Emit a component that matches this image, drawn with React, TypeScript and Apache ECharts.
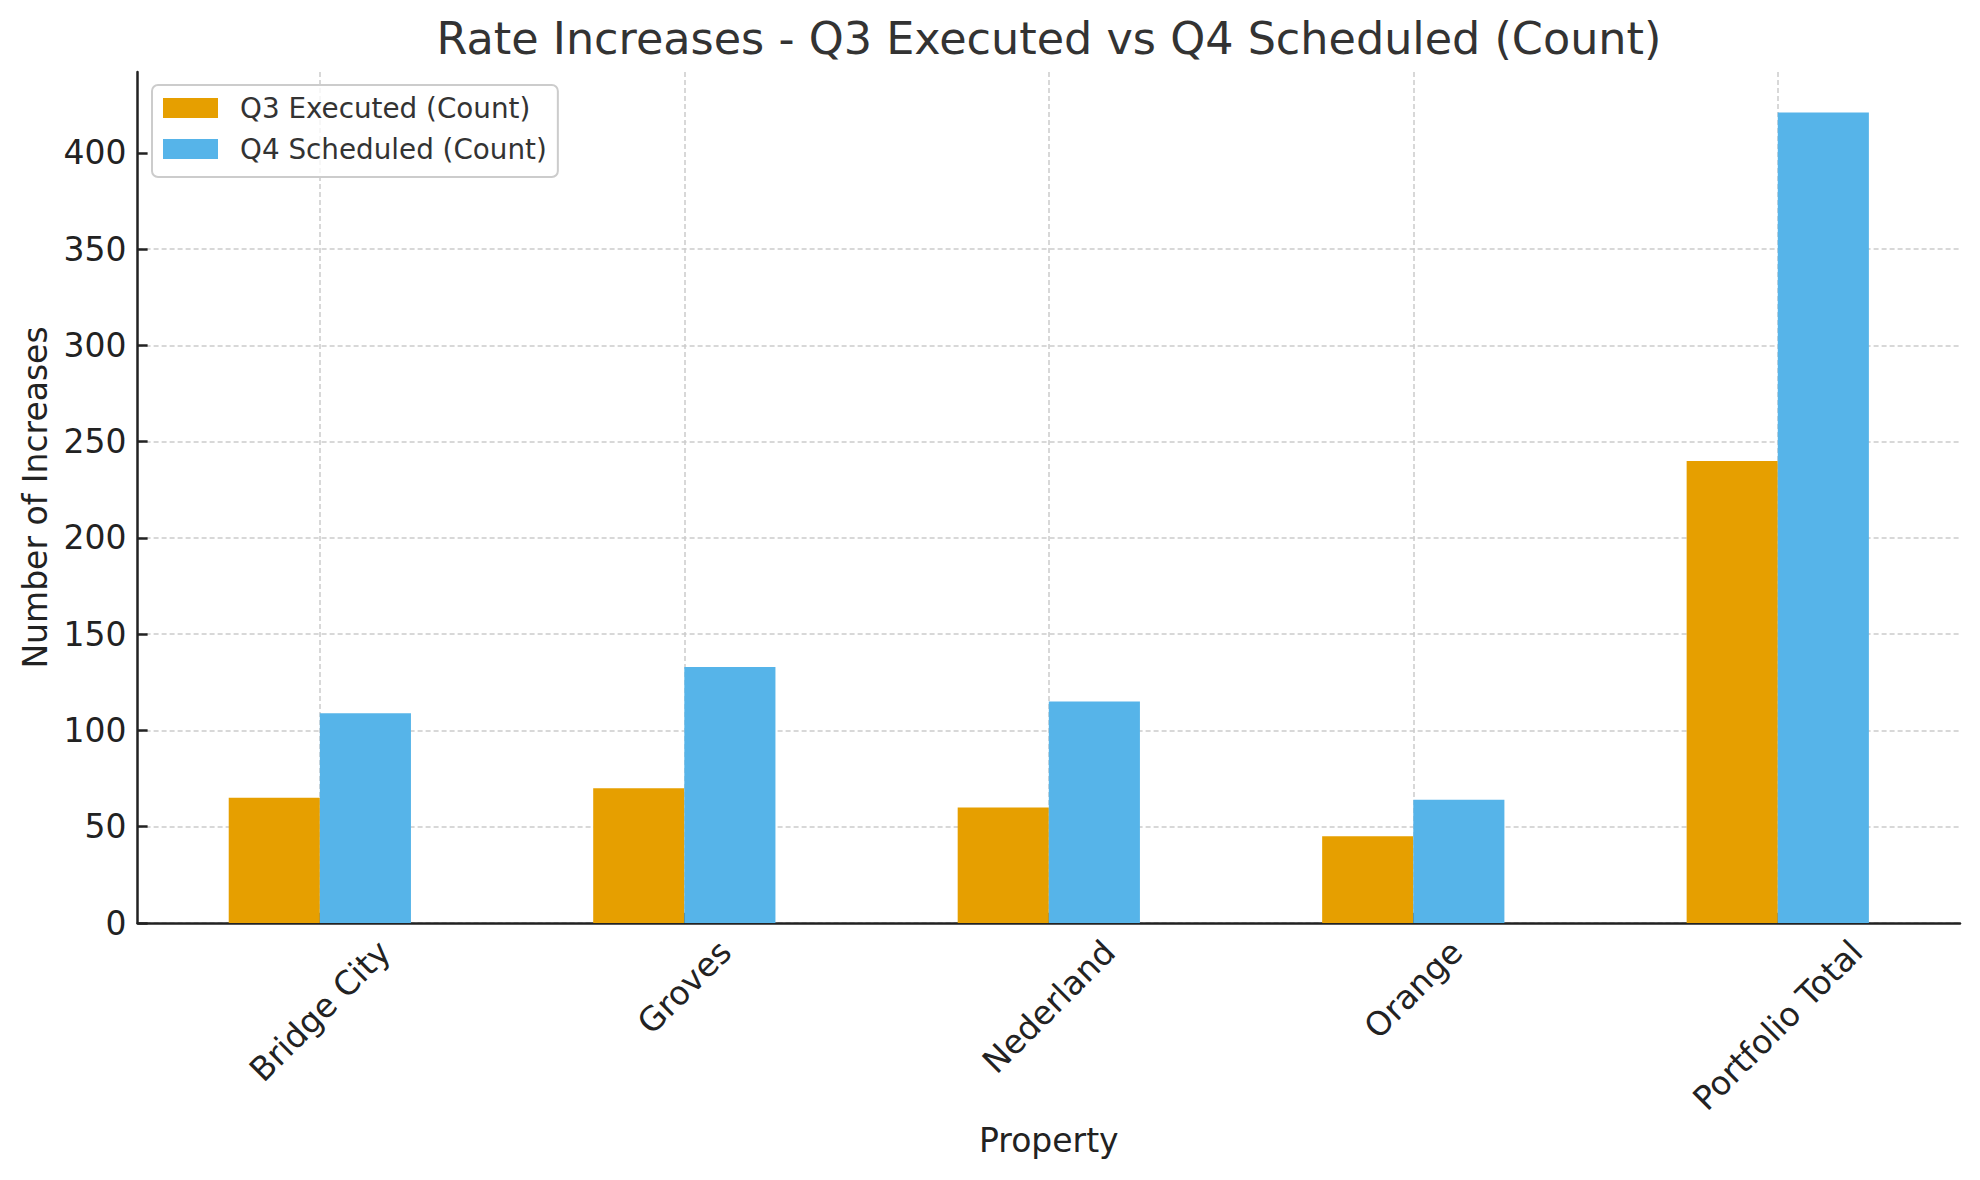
import React, { useEffect, useRef } from "react";
import * as echarts from "echarts";

const categories = ["Bridge City", "Groves", "Nederland", "Orange", "Portfolio Total"];
const q3Executed = [65, 70, 60, 45, 240];
const q4Scheduled = [109, 133, 115, 64, 421];
const yTicks = [0, 50, 100, 150, 200, 250, 300, 350, 400];

const FONT = '"DejaVu Sans", "Liberation Sans", sans-serif';
const TICK_FS = 33;

function measure(text: string, size: number): number {
  const c = document.createElement("canvas");
  const ctx = c.getContext("2d");
  if (!ctx) return text.length * size * 0.6;
  ctx.font = `${size}px "DejaVu Sans"`;
  return ctx.measureText(text).width;
}

export default function App() {
  const ref = useRef<HTMLDivElement>(null);

  useEffect(() => {
    if (!ref.current) return;
    const chart = echarts.init(ref.current, null, { renderer: "svg" });

    chart.setOption({
      animation: false,
      backgroundColor: "#ffffff",
      textStyle: { fontFamily: FONT },
      title: {
        text: "Rate Increases - Q3 Executed vs Q4 Scheduled (Count)",
        left: 1044,
        top: 11,
        textAlign: "center",
        textStyle: { fontFamily: FONT, fontSize: 44.5, fontWeight: "normal", color: "#333333" },
      },
      legend: {
        orient: "vertical",
        left: 152,
        top: 85,
        padding: [9, 11, 14, 11],
        itemGap: 13,
        itemWidth: 55,
        itemHeight: 20,
        icon: "rect",
        backgroundColor: "rgba(255,255,255,0.8)",
        borderColor: "#cccccc",
        borderWidth: 2,
        borderRadius: 6,
        textStyle: { fontFamily: FONT, fontSize: 27.8, color: "#333333", padding: [0, 0, 0, 17] },
        data: ["Q3 Executed (Count)", "Q4 Scheduled (Count)"],
      },
      grid: {
        left: 137.6,
        right: 20,
        top: 72,
        bottom: 257,
        containLabel: false,
        outerBoundsMode: "none",
      },
      xAxis: {
        type: "category",
        data: categories,
        name: "Property",
        nameLocation: "middle",
        nameGap: 201,
        nameMoveOverlap: false,
        nameTextStyle: { fontFamily: FONT, fontSize: 33, color: "#222222" },
        axisLine: { show: true, lineStyle: { color: "#222222", width: 2.5 } },
        axisTick: { show: true, inside: true, length: 10, alignWithLabel: true, lineStyle: { color: "#222222", width: 2.5 } },
        axisLabel: { show: false, interval: 0 },
        splitLine: {
          show: true,
          interval: 0,
          alignWithLabel: true,
          lineStyle: { color: "#cccccc", width: 1.5, type: [5, 3] },
        },
      },
      yAxis: {
        type: "value",
        min: 0,
        max: 442,
        interval: 50,
        name: "Number of Increases",
        nameLocation: "middle",
        nameGap: 86,
        nameMoveOverlap: false,
        nameTextStyle: { fontFamily: FONT, fontSize: 33, color: "#222222" },
        axisLine: { show: true, lineStyle: { color: "#222222", width: 2.5 } },
        axisTick: { show: true, inside: true, length: 10, customValues: yTicks, lineStyle: { color: "#222222", width: 2.5 } },
        axisLabel: {
          customValues: yTicks,
          margin: 11,
          fontFamily: FONT,
          fontSize: TICK_FS,
          color: "#222222",
        },
        splitLine: {
          show: true,
          showMaxLine: false,
          lineStyle: { color: "#cccccc", width: 1.5, type: [5, 3] },
        },
      },
      series: [
        {
          name: "Q3 Executed (Count)",
          type: "bar",
          data: q3Executed,
          barWidth: "25%",
          barGap: "0%",
          itemStyle: { color: "#E69F00" },
        },
        {
          name: "Q4 Scheduled (Count)",
          type: "bar",
          data: q4Scheduled,
          barWidth: "25%",
          barGap: "0%",
          itemStyle: { color: "#56B4E9" },
        },
      ],
    });

    // matplotlib-style rotated tick labels (centred on the tick, bbox top just below the axis)
    const axisY = chart.convertToPixel({ yAxisIndex: 0 }, 0) as number;
    const H = TICK_FS * 1.164;
    const labels = categories.map((c) => {
      const x = chart.convertToPixel({ xAxisIndex: 0 }, c) as number;
      const L = measure(c, TICK_FS);
      const d = 9.6 + ((L + H) * Math.SQRT1_2) / 2;
      return {
        type: "text",
        x,
        y: axisY + d,
        rotation: Math.PI / 4,
        silent: true,
        style: {
          text: c,
          fontFamily: FONT,
          fontSize: TICK_FS,
          fill: "#222222",
          align: "center",
          verticalAlign: "middle",
        },
      };
    });
    chart.setOption({ graphic: labels });

    return () => chart.dispose();
  }, []);

  return (
    <div
      ref={ref}
      style={{ position: "fixed", left: 0, top: 0, width: "1980px", height: "1180px", background: "#fff" }}
    />
  );
}
